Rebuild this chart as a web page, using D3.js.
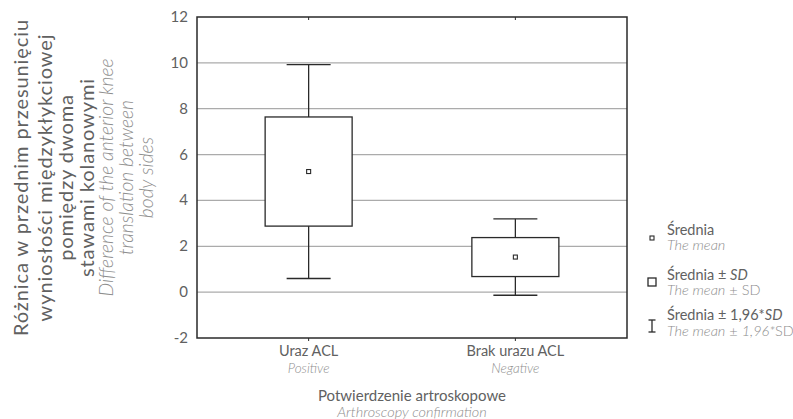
<!DOCTYPE html>
<html lang="pl">
<head>
  <meta charset="UTF-8">
  <title>Box chart</title>
  <script src="https://d3js.org/d3.v7.min.js"></script>
  <style>
    html, body { margin: 0; padding: 0; background: #fff; }
    svg { display: block; font-family: Lato, "Open Sans", sans-serif; }
    .grid line { stroke: #ababab; stroke-width: 1.2px; }
    .frame { fill: none; stroke: #2a2a2a; stroke-width: 1.5px; }
    .box rect { fill: #fff; stroke: #2a2a2a; stroke-width: 1.3px; }
    .box line { stroke: #2a2a2a; stroke-width: 1.3px; }
    .pl { fill: #616161; }
    .en { fill: #8e8e8e; font-style: italic; font-weight: 300; }
  </style>
</head>
<body>
  <svg id="chart" width="793" height="419"></svg>
  <script>
    // Data
    const categories = ["Uraz ACL", "Brak urazu ACL"];
    const categoriesEn = ["Positive", "Negative"];
    const means = [5.26, 1.53];
    const sds = [2.38, 0.85];
    const yTicks = [-2, 0, 2, 4, 6, 8, 10, 12];

    const svg = d3.select("#chart");
    const margin = { top: 17, right: 166, bottom: 81, left: 197 };
    const W = 793, H = 419;
    const plotW = W - margin.left - margin.right;
    const plotH = H - margin.top - margin.bottom;

    const x = d3.scalePoint().domain(categories).range([margin.left, margin.left + plotW]).padding(0.54);
    const y = d3.scaleLinear().domain([-2, 12]).range([margin.top + plotH, margin.top]);

    // Gridlines
    svg.append("g").attr("class", "grid")
      .selectAll("line").data(yTicks.filter(t => t > -2 && t < 12)).enter()
      .append("line")
      .attr("x1", margin.left).attr("x2", margin.left + plotW)
      .attr("y1", d => y(d)).attr("y2", d => y(d));

    // Y tick labels
    svg.append("g").selectAll("text").data(yTicks).enter()
      .append("text").attr("class", "pl")
      .attr("x", margin.left - 9).attr("y", d => y(d) + 5)
      .attr("text-anchor", "end").attr("font-size", 15)
      .text(d => d);

    // Boxes
    const data = categories.map((c, i) => ({ c, m: means[i], sd: sds[i] }));
    const boxHalf = 43.5, capHalf = 22;
    const g = svg.selectAll(".box").data(data).enter().append("g").attr("class", "box");
    g.append("line")
      .attr("x1", d => x(d.c)).attr("x2", d => x(d.c))
      .attr("y1", d => y(d.m + 1.96 * d.sd)).attr("y2", d => y(d.m - 1.96 * d.sd));
    g.append("line")
      .attr("x1", d => x(d.c) - capHalf).attr("x2", d => x(d.c) + capHalf)
      .attr("y1", d => y(d.m + 1.96 * d.sd)).attr("y2", d => y(d.m + 1.96 * d.sd));
    g.append("line")
      .attr("x1", d => x(d.c) - capHalf).attr("x2", d => x(d.c) + capHalf)
      .attr("y1", d => y(d.m - 1.96 * d.sd)).attr("y2", d => y(d.m - 1.96 * d.sd));
    g.append("rect")
      .attr("x", d => x(d.c) - boxHalf).attr("width", boxHalf * 2)
      .attr("y", d => y(d.m + d.sd)).attr("height", d => y(d.m - d.sd) - y(d.m + d.sd));
    g.append("rect")
      .attr("x", d => x(d.c) - 2).attr("width", 4)
      .attr("y", d => y(d.m) - 2).attr("height", 4)
      .style("stroke-width", "1.1px");

    // Frame and category ticks
    svg.append("rect").attr("class", "frame")
      .attr("x", margin.left).attr("y", margin.top).attr("width", plotW).attr("height", plotH);
    svg.append("g").selectAll("line").data(categories).enter()
      .append("line").attr("stroke", "#2a2a2a").attr("stroke-width", 1)
      .attr("x1", d => x(d)).attr("x2", d => x(d))
      .attr("y1", margin.top).attr("y2", margin.top + 3);
    svg.append("g").selectAll("line").data(categories).enter()
      .append("line").attr("stroke", "#2a2a2a").attr("stroke-width", 1)
      .attr("x1", d => x(d)).attr("x2", d => x(d))
      .attr("y1", margin.top + plotH).attr("y2", margin.top + plotH + 3);

    // Category labels
    svg.append("g").selectAll("text").data(categories).enter()
      .append("text").attr("class", "pl").attr("font-size", 14.5)
      .attr("text-anchor", "middle").attr("x", d => x(d)).attr("y", 356)
      .text(d => d);
    svg.append("g").selectAll("text").data(categoriesEn).enter()
      .append("text").attr("class", "en").attr("font-size", 13.5)
      .attr("text-anchor", "middle").attr("x", (d, i) => x(categories[i])).attr("y", 372.5)
      .text(d => d);

    // X axis title
    const cx = margin.left + plotW / 2;
    svg.append("text").attr("class", "pl").attr("font-size", 15)
      .attr("text-anchor", "middle").attr("x", cx).attr("y", 400.5)
      .text("Potwierdzenie artroskopowe");
    svg.append("text").attr("class", "en").attr("font-size", 14.5)
      .attr("text-anchor", "middle").attr("x", cx).attr("y", 417)
      .text("Arthroscopy confirmation");

    // Y axis title (rotated)
    const cy = margin.top + plotH / 2;
    const yTitle = [
      { t: "Różnica w przednim przesunięciu", cls: "pl", x: 28 },
      { t: "wyniosłości międzykłykciowej", cls: "pl", x: 52 },
      { t: "pomiędzy dwoma", cls: "pl", x: 73 },
      { t: "stawami kolanowymi", cls: "pl", x: 94 },
      { t: "Difference of the anterior knee", cls: "en", x: 113 },
      { t: "translation between", cls: "en", x: 133 },
      { t: "body sides", cls: "en", x: 153 }
    ];
    svg.append("g").selectAll("text").data(yTitle).enter()
      .append("text").attr("class", d => d.cls)
      .attr("font-size", d => d.cls === "pl" ? 20 : 19.3)
      .attr("letter-spacing", d => d.cls === "pl" ? 0.9 : 0)
      .attr("text-anchor", "middle")
      .attr("transform", d => `translate(${d.x},${cy}) rotate(-90)`)
      .text(d => d.t);

    // Legend
    const lx = 652, tx = 667, fs = 14.5;
    const leg = svg.append("g");
    leg.append("rect").attr("x", lx - 2).attr("y", 236).attr("width", 4).attr("height", 4)
      .attr("fill", "#fff").attr("stroke", "#2a2a2a").attr("stroke-width", 1.1);
    leg.append("text").attr("class", "pl").attr("font-size", fs).attr("x", tx).attr("y", 234.5).text("Średnia");
    leg.append("text").attr("class", "en").attr("font-size", fs).attr("x", tx).attr("y", 250).text("The mean");

    leg.append("rect").attr("x", lx - 4).attr("y", 278).attr("width", 8).attr("height", 8)
      .attr("fill", "#fff").attr("stroke", "#2a2a2a").attr("stroke-width", 1.3);
    const t2 = leg.append("text").attr("class", "pl").attr("font-size", fs).attr("x", tx).attr("y", 279.5);
    t2.append("tspan").text("Średnia ± ");
    t2.append("tspan").attr("font-style", "italic").text("SD");
    const e2 = leg.append("text").attr("class", "en").attr("font-size", fs).attr("x", tx).attr("y", 295);
    e2.append("tspan").text("The mean");
    e2.append("tspan").attr("font-style", "normal").text(" ± SD");

    leg.append("line").attr("x1", lx).attr("x2", lx).attr("y1", 320).attr("y2", 332)
      .attr("stroke", "#2a2a2a").attr("stroke-width", 1.3);
    leg.append("line").attr("x1", lx - 3.5).attr("x2", lx + 3.5).attr("y1", 320).attr("y2", 320)
      .attr("stroke", "#2a2a2a").attr("stroke-width", 1.3);
    leg.append("line").attr("x1", lx - 3.5).attr("x2", lx + 3.5).attr("y1", 332).attr("y2", 332)
      .attr("stroke", "#2a2a2a").attr("stroke-width", 1.3);
    const t3 = leg.append("text").attr("class", "pl").attr("font-size", fs).attr("x", tx).attr("y", 320);
    t3.append("tspan").text("Średnia ± 1,96*");
    t3.append("tspan").attr("font-style", "italic").text("SD");
    const e3 = leg.append("text").attr("class", "en").attr("font-size", fs).attr("x", tx).attr("y", 335.5);
    e3.append("tspan").text("The mean");
    e3.append("tspan").attr("font-style", "normal").text(" ± ");
    e3.append("tspan").text("1,96*");
    e3.append("tspan").attr("font-style", "normal").text("SD");
  </script>
</body>
</html>
